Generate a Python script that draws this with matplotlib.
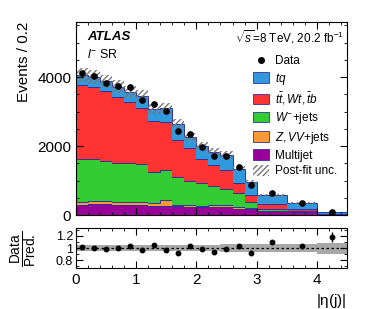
import numpy as np
import matplotlib
matplotlib.use("Agg")
import matplotlib.pyplot as plt
from matplotlib.patches import Patch
from matplotlib.lines import Line2D

plt.rcParams['font.family'] = ['Liberation Sans', 'DejaVu Sans']
plt.rcParams['mathtext.fontset'] = 'custom'
plt.rcParams['mathtext.rm'] = 'Liberation Sans'
plt.rcParams['mathtext.it'] = 'Liberation Sans:italic'
plt.rcParams['mathtext.bf'] = 'Liberation Sans:bold'

# bin edges in |eta(j)|, contents are Events / 0.2
edges = np.array([0, 0.2, 0.4, 0.6, 0.8, 1.0, 1.2, 1.4, 1.6, 1.8, 2.0,
                  2.2, 2.4, 2.6, 2.8, 3.0, 3.5, 4.0, 4.5])
multijet = np.array([290, 315, 310, 305, 300, 290, 275, 270, 250, 235, 230, 240, 230, 190, 170, 110, 75, 15])
zvv = np.array([96, 90, 85, 85, 80, 77, 68, 165, 40, 60, 45, 40, 70, 35, 40, 20, 25, 5])
wjets = np.array([1237, 1215, 1170, 1117, 1137, 1111, 913, 879, 821, 695, 645, 570, 460, 415, 180, 60, 26, 10])
ttbar = np.array([2145, 2100, 2039, 1903, 1749, 1633, 1469, 1386, 1069, 960, 700, 600, 540, 285, 190, 130, 64, 15])
tq = np.array([290, 289, 276, 310, 304, 329, 355, 400, 470, 320, 390, 380, 440, 425, 370, 250, 155, 37])
data = np.array([4110, 4030, 3830, 3740, 3700, 3350, 3230, 3010, 2450, 2350, 1975, 1715, 1720, 1400, 870, 630, 357, 97])
rel_unc = np.array([0.05, 0.05, 0.05, 0.05, 0.05, 0.05, 0.05, 0.05, 0.05, 0.05,
                    0.055, 0.055, 0.06, 0.06, 0.06, 0.07, 0.07, 0.09])

labels = ['Multijet', r'$Z,VV$+jets', r'$W^{-}$+jets', r'$t\bar{t},Wt,\bar{t}b$', r'$tq$']
colors = ['#990099', '#ff9933', '#33cc33', '#ff3333', '#3399dd']
comps = [multijet, zvv, wjets, ttbar, tq]

centers = 0.5 * (edges[:-1] + edges[1:])
widths = np.diff(edges)
total = multijet + zvv + wjets + ttbar + tq
nscale = widths / 0.2
data_err = np.sqrt(data * nscale) / nscale

fig = plt.figure(figsize=(3.66, 3.09), dpi=100)
ax = fig.add_axes([0.2077, 0.304, 0.740, 0.625])
rax = fig.add_axes([0.2077, 0.1327, 0.740, 0.129])

bottom = np.zeros(len(centers))
for vals, c in zip(comps, colors):
    top = bottom + vals
    ax.stairs(top, edges, baseline=bottom, fill=True, color=c, linewidth=0)
    ax.stairs(top, edges, baseline=None, color='#3030a0', linewidth=0.7)
    bottom = top

lo = np.append(total * (1 - rel_unc), total[-1] * (1 - rel_unc[-1]))
hi = np.append(total * (1 + rel_unc), total[-1] * (1 + rel_unc[-1]))
ax.fill_between(edges, lo, hi, step='post', facecolor='none',
                edgecolor='#777777', hatch='//////', linewidth=0)

ax.errorbar(centers, data, yerr=data_err, fmt='o', color='black', ms=3.8,
            elinewidth=1, capsize=0)

ax.set_xlim(0, 4.5)
ax.set_ylim(0, 5600)
ax.set_yticks([0, 2000, 4000])
ax.set_yticks(np.arange(0, 5600, 500), minor=True)
ax.set_xticks([0, 1, 2, 3, 4])
ax.set_xticks(np.arange(0, 4.5, 0.2), minor=True)
ax.tick_params(labelbottom=False)
ax.set_ylabel('Events / 0.2', fontsize=11, loc='top')
ax.yaxis.set_label_coords(-0.165, 1.0)

for a in (ax, rax):
    a.tick_params(which='both', direction='in', top=True, right=True, labelsize=11)
    a.tick_params(which='major', length=5)
    a.tick_params(which='minor', length=2.5)
rax.tick_params(axis='y', labelsize=9, pad=2)

ax.text(0.04, 0.92, 'ATLAS', transform=ax.transAxes, fontsize=9.5,
        fontweight='bold', style='italic', va='center')
ax.text(0.04, 0.83, r'$l^{-}$ SR', transform=ax.transAxes, fontsize=9, va='center')
ax.text(0.99, 0.92, r'$\sqrt{s}$=8 TeV, 20.2 fb$^{-1}$', transform=ax.transAxes,
        fontsize=8.5, ha='right', va='center')

handles = [Line2D([], [], marker='o', color='black', ls='none', ms=4)]
handles += [Patch(facecolor=c, edgecolor='#3030a0', linewidth=0.6) for c in colors[::-1]]
handles += [Patch(facecolor='none', edgecolor='#777777', hatch='//////', linewidth=0)]
leg_labels = ['Data'] + labels[::-1] + ['Post-fit unc.']
ax.legend(handles, leg_labels, loc='upper left', bbox_to_anchor=(0.63, 0.86),
          frameon=False, fontsize=8.5, handlelength=1.4, handleheight=1.0,
          labelspacing=0.3, handletextpad=0.5, borderpad=0)

# ratio panel
ratio = data / total
ratio_err = data_err / total
rlo = np.append(1 - rel_unc, 1 - rel_unc[-1])
rhi = np.append(1 + rel_unc, 1 + rel_unc[-1])
rax.fill_between(edges, rlo, rhi, step='post', color='#a8a8a8', linewidth=0)
rax.axhline(1, color='black', ls=(0, (2, 2)), lw=0.9)
rax.errorbar(centers, ratio, yerr=ratio_err, fmt='o', color='black', ms=3.2,
             elinewidth=1, capsize=0)
rax.set_xlim(0, 4.5)
rax.set_ylim(0.67, 1.33)
rax.set_yticks([0.8, 1.0, 1.2])
rax.set_yticklabels(['0.8', '1', '1.2'])
rax.set_yticks(np.arange(0.7, 1.35, 0.1), minor=True)
rax.set_xticks([0, 1, 2, 3, 4])
rax.set_xticks(np.arange(0, 4.5, 0.2), minor=True)
rax.set_ylabel(r'$\frac{\mathrm{Data}}{\mathrm{Pred.}}$', fontsize=14)
rax.yaxis.set_label_coords(-0.135, 0.5)
rax.set_xlabel(r'|$\mathrm{\eta}$(j)|', fontsize=11, loc='right')

fig.savefig('out.png', dpi=100)
